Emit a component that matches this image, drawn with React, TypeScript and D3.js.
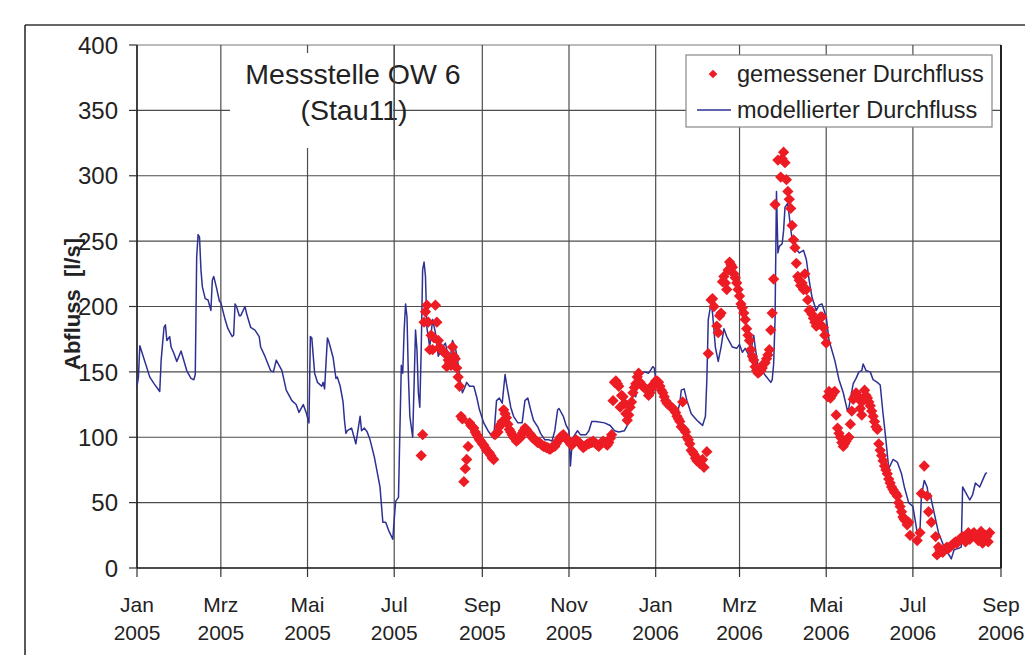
import React from "react";
import * as d3 from "d3";

const W = 1025;
const H = 655;
const FONT = "'Liberation Sans', Arial, Helvetica, sans-serif";

const yTicks = [0, 50, 100, 150, 200, 250, 300, 350, 400];
const xTickDates = [
  "2005-01-01", "2005-03-01", "2005-05-01", "2005-07-01", "2005-09-01", "2005-11-01",
  "2006-01-01", "2006-03-01", "2006-05-01", "2006-07-01", "2006-09-01",
];
const xTickMonths = ["Jan", "Mrz", "Mai", "Jul", "Sep", "Nov", "Jan", "Mrz", "Mai", "Jul", "Sep"];
const xTickYears = ["2005", "2005", "2005", "2005", "2005", "2005", "2006", "2006", "2006", "2006", "2006"];

// modellierter Durchfluss (l/s)
const modelled: [string, number][] = [
  ["2005-01-01", 139], ["2005-01-02", 146], ["2005-01-03", 170], ["2005-01-10", 146],
  ["2005-01-13", 141], ["2005-01-17", 135], ["2005-01-18", 159], ["2005-01-20", 184],
  ["2005-01-21", 186], ["2005-01-22", 174], ["2005-01-24", 177], ["2005-01-25", 169],
  ["2005-01-27", 164], ["2005-01-29", 158], ["2005-02-01", 166], ["2005-02-05", 151],
  ["2005-02-08", 145], ["2005-02-10", 144], ["2005-02-11", 148], ["2005-02-12", 238],
  ["2005-02-13", 255], ["2005-02-14", 253], ["2005-02-15", 228], ["2005-02-16", 215],
  ["2005-02-18", 206], ["2005-02-20", 205], ["2005-02-22", 197], ["2005-02-23", 220],
  ["2005-02-24", 223], ["2005-02-26", 214], ["2005-02-28", 204], ["2005-03-01", 203],
  ["2005-03-04", 190], ["2005-03-06", 183], ["2005-03-09", 177], ["2005-03-10", 178],
  ["2005-03-11", 202], ["2005-03-12", 200], ["2005-03-14", 193], ["2005-03-15", 193],
  ["2005-03-18", 200], ["2005-03-19", 195], ["2005-03-22", 184], ["2005-03-25", 182],
  ["2005-03-28", 177], ["2005-03-29", 169], ["2005-04-01", 162], ["2005-04-05", 151],
  ["2005-04-07", 150], ["2005-04-09", 159], ["2005-04-13", 151], ["2005-04-16", 136],
  ["2005-04-20", 128], ["2005-04-23", 125], ["2005-04-25", 119], ["2005-04-28", 125],
  ["2005-04-30", 119], ["2005-05-02", 111], ["2005-05-03", 177], ["2005-05-04", 176],
  ["2005-05-06", 149], ["2005-05-08", 142], ["2005-05-11", 139], ["2005-05-12", 142],
  ["2005-05-13", 137], ["2005-05-15", 176], ["2005-05-16", 173], ["2005-05-19", 161],
  ["2005-05-21", 145], ["2005-05-22", 146], ["2005-05-24", 139], ["2005-05-26", 127],
  ["2005-05-27", 113], ["2005-05-28", 103], ["2005-05-29", 105], ["2005-06-01", 107],
  ["2005-06-04", 95], ["2005-06-07", 116], ["2005-06-08", 105], ["2005-06-10", 107],
  ["2005-06-12", 104], ["2005-06-14", 98], ["2005-06-17", 85], ["2005-06-21", 62],
  ["2005-06-23", 35], ["2005-06-25", 35], ["2005-06-27", 29], ["2005-06-30", 22],
  ["2005-07-01", 37], ["2005-07-02", 51], ["2005-07-04", 54], ["2005-07-05", 105],
  ["2005-07-06", 155], ["2005-07-07", 149], ["2005-07-08", 182], ["2005-07-09", 202],
  ["2005-07-10", 192], ["2005-07-11", 146], ["2005-07-12", 116], ["2005-07-14", 100],
  ["2005-07-15", 141], ["2005-07-16", 182], ["2005-07-17", 167], ["2005-07-18", 134],
  ["2005-07-19", 123], ["2005-07-20", 167], ["2005-07-21", 228], ["2005-07-22", 234],
  ["2005-07-23", 223], ["2005-07-24", 184], ["2005-07-26", 169], ["2005-07-28", 190],
  ["2005-07-30", 180], ["2005-08-01", 162], ["2005-08-04", 169], ["2005-08-06", 172],
  ["2005-08-08", 162], ["2005-08-09", 156], ["2005-08-11", 174], ["2005-08-13", 169],
  ["2005-08-15", 156], ["2005-08-16", 146], ["2005-08-18", 134], ["2005-08-20", 139],
  ["2005-08-21", 142], ["2005-08-23", 139], ["2005-08-26", 139], ["2005-08-28", 131],
  ["2005-08-30", 121], ["2005-09-02", 111], ["2005-09-05", 105], ["2005-09-09", 99],
  ["2005-09-11", 128], ["2005-09-13", 130], ["2005-09-15", 126], ["2005-09-17", 148],
  ["2005-09-18", 141], ["2005-09-21", 123], ["2005-09-23", 116], ["2005-09-26", 111],
  ["2005-09-29", 111], ["2005-10-01", 128], ["2005-10-03", 130], ["2005-10-05", 121],
  ["2005-10-07", 113], ["2005-10-10", 108], ["2005-10-12", 103], ["2005-10-15", 98],
  ["2005-10-18", 98], ["2005-10-20", 97], ["2005-10-22", 105], ["2005-10-24", 121],
  ["2005-10-25", 122], ["2005-10-28", 116], ["2005-10-30", 109], ["2005-11-01", 105],
  ["2005-11-02", 78], ["2005-11-03", 93], ["2005-11-04", 100], ["2005-11-07", 105],
  ["2005-11-09", 102], ["2005-11-13", 102], ["2005-11-15", 105], ["2005-11-17", 112],
  ["2005-11-20", 112], ["2005-11-26", 111], ["2005-11-30", 109], ["2005-12-03", 105],
  ["2005-12-06", 104], ["2005-12-10", 105], ["2005-12-13", 111], ["2005-12-16", 134],
  ["2005-12-18", 131], ["2005-12-20", 149], ["2005-12-24", 150], ["2005-12-27", 149],
  ["2005-12-30", 154], ["2005-12-31", 153], ["2006-01-01", 144], ["2006-01-04", 136],
  ["2006-01-09", 126], ["2006-01-13", 121], ["2006-01-16", 118], ["2006-01-18", 126],
  ["2006-01-19", 136], ["2006-01-21", 137], ["2006-01-23", 128], ["2006-01-26", 118],
  ["2006-01-30", 113], ["2006-02-01", 111], ["2006-02-03", 109], ["2006-02-05", 116],
  ["2006-02-06", 144], ["2006-02-07", 190], ["2006-02-09", 203], ["2006-02-10", 195],
  ["2006-02-12", 169], ["2006-02-14", 158], ["2006-02-16", 169], ["2006-02-18", 183],
  ["2006-02-20", 177], ["2006-02-24", 169], ["2006-02-27", 168], ["2006-03-01", 171],
  ["2006-03-03", 165], ["2006-03-05", 168], ["2006-03-07", 164], ["2006-03-08", 160],
  ["2006-03-11", 178], ["2006-03-12", 169], ["2006-03-14", 155], ["2006-03-18", 149],
  ["2006-03-23", 142], ["2006-03-24", 144], ["2006-03-25", 156], ["2006-03-26", 190],
  ["2006-03-27", 288], ["2006-03-28", 241], ["2006-03-29", 246], ["2006-03-31", 248],
  ["2006-04-01", 258], ["2006-04-02", 276], ["2006-04-04", 279], ["2006-04-05", 269],
  ["2006-04-07", 251], ["2006-04-10", 244], ["2006-04-12", 241], ["2006-04-15", 243],
  ["2006-04-17", 236], ["2006-04-19", 220], ["2006-04-21", 207], ["2006-04-24", 197],
  ["2006-04-26", 201], ["2006-04-28", 202], ["2006-05-01", 192], ["2006-05-03", 174],
  ["2006-05-07", 159], ["2006-05-08", 154], ["2006-05-10", 144], ["2006-05-13", 134],
  ["2006-05-16", 120], ["2006-05-17", 123], ["2006-05-20", 141], ["2006-05-22", 145],
  ["2006-05-24", 150], ["2006-05-26", 151], ["2006-05-27", 156], ["2006-05-29", 151],
  ["2006-06-01", 150], ["2006-06-03", 144], ["2006-06-06", 142], ["2006-06-08", 140],
  ["2006-06-10", 118], ["2006-06-12", 98], ["2006-06-14", 76], ["2006-06-17", 83],
  ["2006-06-20", 81], ["2006-06-23", 72], ["2006-06-25", 62], ["2006-06-28", 50],
  ["2006-07-01", 47], ["2006-07-03", 34], ["2006-07-04", 27], ["2006-07-06", 29],
  ["2006-07-07", 55], ["2006-07-09", 67], ["2006-07-11", 62], ["2006-07-12", 55],
  ["2006-07-13", 57], ["2006-07-16", 42], ["2006-07-19", 27], ["2006-07-23", 16],
  ["2006-07-27", 9], ["2006-07-28", 7], ["2006-07-30", 14], ["2006-08-02", 15],
  ["2006-08-04", 16], ["2006-08-05", 62], ["2006-08-07", 58], ["2006-08-10", 52],
  ["2006-08-12", 56], ["2006-08-14", 65], ["2006-08-17", 62], ["2006-08-19", 67],
  ["2006-08-21", 72], ["2006-08-22", 73],
];

const measured: [string, number][] = [
  ["2005-07-20", 86], ["2005-07-21", 102], ["2005-07-22", 188], ["2005-07-23", 196],
  ["2005-07-24", 201], ["2005-07-25", 188], ["2005-07-26", 167], ["2005-07-27", 178],
  ["2005-07-28", 167], ["2005-07-29", 176], ["2005-07-30", 201], ["2005-07-31", 188],
  ["2005-08-01", 174], ["2005-08-02", 169], ["2005-08-03", 167], ["2005-08-04", 166],
  ["2005-08-05", 165], ["2005-08-06", 164], ["2005-08-07", 154], ["2005-08-08", 159],
  ["2005-08-09", 157], ["2005-08-10", 155], ["2005-08-11", 169], ["2005-08-12", 162],
  ["2005-08-13", 160], ["2005-08-14", 153], ["2005-08-15", 146], ["2005-08-16", 139],
  ["2005-08-17", 116], ["2005-08-18", 114], ["2005-08-19", 66], ["2005-08-20", 76],
  ["2005-08-21", 83], ["2005-08-22", 93], ["2005-08-23", 111], ["2005-08-24", 109],
  ["2005-08-25", 108], ["2005-08-26", 107], ["2005-08-27", 104], ["2005-08-28", 102],
  ["2005-08-29", 100], ["2005-08-30", 98], ["2005-08-31", 97], ["2005-09-01", 95],
  ["2005-09-02", 94], ["2005-09-03", 92], ["2005-09-04", 90], ["2005-09-05", 89],
  ["2005-09-06", 88], ["2005-09-07", 86], ["2005-09-08", 84], ["2005-09-09", 83],
  ["2005-09-10", 102], ["2005-09-11", 103], ["2005-09-12", 104], ["2005-09-13", 108],
  ["2005-09-14", 110], ["2005-09-15", 112], ["2005-09-16", 121], ["2005-09-17", 118],
  ["2005-09-18", 115], ["2005-09-19", 110], ["2005-09-20", 106], ["2005-09-21", 104],
  ["2005-09-22", 102], ["2005-09-23", 100], ["2005-09-24", 99], ["2005-09-25", 97],
  ["2005-09-26", 98], ["2005-09-27", 99], ["2005-09-28", 100], ["2005-09-29", 103],
  ["2005-09-30", 105], ["2005-10-01", 107], ["2005-10-02", 106], ["2005-10-03", 104],
  ["2005-10-04", 103], ["2005-10-05", 102], ["2005-10-06", 100], ["2005-10-07", 99],
  ["2005-10-08", 98], ["2005-10-09", 97], ["2005-10-10", 96], ["2005-10-11", 96],
  ["2005-10-12", 95], ["2005-10-13", 94], ["2005-10-14", 93], ["2005-10-15", 93],
  ["2005-10-16", 92], ["2005-10-17", 92], ["2005-10-18", 91], ["2005-10-19", 91],
  ["2005-10-20", 92], ["2005-10-21", 93], ["2005-10-22", 93], ["2005-10-23", 95],
  ["2005-10-24", 97], ["2005-10-25", 98], ["2005-10-26", 100], ["2005-10-27", 101],
  ["2005-10-28", 102], ["2005-10-29", 100], ["2005-10-30", 99], ["2005-10-31", 98],
  ["2005-11-01", 97], ["2005-11-02", 95], ["2005-11-03", 94], ["2005-11-04", 96],
  ["2005-11-05", 97], ["2005-11-06", 98], ["2005-11-07", 97], ["2005-11-08", 96],
  ["2005-11-09", 95], ["2005-11-10", 94], ["2005-11-11", 92], ["2005-11-12", 93],
  ["2005-11-13", 94], ["2005-11-14", 95], ["2005-11-15", 95], ["2005-11-16", 96],
  ["2005-11-17", 96], ["2005-11-18", 97], ["2005-11-19", 96], ["2005-11-20", 95],
  ["2005-11-21", 94], ["2005-11-22", 93], ["2005-11-23", 95], ["2005-11-24", 96],
  ["2005-11-25", 97], ["2005-11-26", 96], ["2005-11-27", 95], ["2005-11-28", 94],
  ["2005-11-29", 96], ["2005-11-30", 99], ["2005-12-01", 102], ["2005-12-02", 128],
  ["2005-12-03", 142], ["2005-12-04", 143], ["2005-12-05", 141], ["2005-12-06", 139],
  ["2005-12-07", 123], ["2005-12-08", 132], ["2005-12-09", 131], ["2005-12-10", 126],
  ["2005-12-11", 118], ["2005-12-12", 113], ["2005-12-13", 117], ["2005-12-14", 123],
  ["2005-12-15", 127], ["2005-12-16", 134], ["2005-12-17", 138], ["2005-12-18", 141],
  ["2005-12-19", 146], ["2005-12-20", 149], ["2005-12-21", 142], ["2005-12-22", 140],
  ["2005-12-23", 139], ["2005-12-24", 138], ["2005-12-25", 137], ["2005-12-26", 136],
  ["2005-12-27", 132], ["2005-12-28", 134], ["2005-12-29", 137], ["2005-12-30", 140],
  ["2005-12-31", 141], ["2006-01-01", 143], ["2006-01-02", 143], ["2006-01-03", 142],
  ["2006-01-04", 139], ["2006-01-05", 136], ["2006-01-06", 134], ["2006-01-07", 131],
  ["2006-01-08", 128], ["2006-01-09", 126], ["2006-01-10", 125], ["2006-01-11", 124],
  ["2006-01-12", 123], ["2006-01-13", 122], ["2006-01-14", 121], ["2006-01-15", 119],
  ["2006-01-16", 116], ["2006-01-17", 114], ["2006-01-18", 112], ["2006-01-19", 108],
  ["2006-01-20", 127], ["2006-01-21", 106], ["2006-01-22", 104], ["2006-01-23", 100],
  ["2006-01-24", 98], ["2006-01-25", 95], ["2006-01-26", 90], ["2006-01-27", 89],
  ["2006-01-28", 87], ["2006-01-29", 84], ["2006-01-30", 82], ["2006-01-31", 83],
  ["2006-02-01", 80], ["2006-02-02", 82], ["2006-02-03", 83], ["2006-02-04", 77],
  ["2006-02-06", 89], ["2006-02-07", 164], ["2006-02-09", 205], ["2006-02-10", 206],
  ["2006-02-11", 200], ["2006-02-13", 185], ["2006-02-14", 180], ["2006-02-15", 193],
  ["2006-02-16", 195], ["2006-02-17", 219], ["2006-02-18", 223], ["2006-02-19", 218],
  ["2006-02-20", 213], ["2006-02-21", 228], ["2006-02-22", 234], ["2006-02-23", 232],
  ["2006-02-24", 230], ["2006-02-25", 225], ["2006-02-26", 222], ["2006-02-27", 218],
  ["2006-02-28", 213], ["2006-03-01", 208], ["2006-03-02", 202], ["2006-03-03", 199],
  ["2006-03-04", 195], ["2006-03-05", 190], ["2006-03-06", 183], ["2006-03-07", 178],
  ["2006-03-08", 174], ["2006-03-09", 167], ["2006-03-10", 162], ["2006-03-11", 159],
  ["2006-03-12", 154], ["2006-03-13", 151], ["2006-03-14", 149], ["2006-03-15", 150],
  ["2006-03-16", 151], ["2006-03-17", 153], ["2006-03-18", 156], ["2006-03-19", 157],
  ["2006-03-20", 160], ["2006-03-21", 163], ["2006-03-22", 167], ["2006-03-23", 182],
  ["2006-03-24", 195], ["2006-03-25", 221], ["2006-03-26", 278], ["2006-03-28", 312],
  ["2006-03-30", 299], ["2006-03-31", 313], ["2006-04-01", 318], ["2006-04-02", 310],
  ["2006-04-03", 297], ["2006-04-04", 288], ["2006-04-05", 282], ["2006-04-06", 275],
  ["2006-04-07", 262], ["2006-04-08", 251], ["2006-04-09", 245], ["2006-04-10", 233],
  ["2006-04-11", 223], ["2006-04-12", 220], ["2006-04-13", 216], ["2006-04-14", 218],
  ["2006-04-15", 213], ["2006-04-16", 225], ["2006-04-17", 213], ["2006-04-18", 205],
  ["2006-04-19", 197], ["2006-04-20", 197], ["2006-04-21", 194], ["2006-04-22", 191],
  ["2006-04-23", 188], ["2006-04-24", 185], ["2006-04-25", 186], ["2006-04-26", 187],
  ["2006-04-27", 192], ["2006-04-28", 192], ["2006-04-29", 184], ["2006-04-30", 178],
  ["2006-05-01", 172], ["2006-05-02", 131], ["2006-05-03", 135], ["2006-05-04", 130],
  ["2006-05-05", 132], ["2006-05-06", 134], ["2006-05-07", 135], ["2006-05-08", 117],
  ["2006-05-09", 107], ["2006-05-10", 103], ["2006-05-11", 100], ["2006-05-12", 96],
  ["2006-05-13", 93], ["2006-05-14", 95], ["2006-05-15", 97], ["2006-05-16", 99],
  ["2006-05-17", 100], ["2006-05-18", 110], ["2006-05-19", 120], ["2006-05-20", 129],
  ["2006-05-21", 131], ["2006-05-22", 134], ["2006-05-23", 132], ["2006-05-24", 129],
  ["2006-05-25", 122], ["2006-05-26", 117], ["2006-05-27", 128], ["2006-05-28", 136],
  ["2006-05-29", 132], ["2006-05-30", 130], ["2006-05-31", 127], ["2006-06-01", 124],
  ["2006-06-02", 120], ["2006-06-03", 116], ["2006-06-04", 112], ["2006-06-05", 108],
  ["2006-06-06", 106], ["2006-06-07", 95], ["2006-06-08", 90], ["2006-06-09", 86],
  ["2006-06-10", 82], ["2006-06-11", 78], ["2006-06-12", 75], ["2006-06-13", 72],
  ["2006-06-14", 68], ["2006-06-15", 65], ["2006-06-16", 62], ["2006-06-17", 60],
  ["2006-06-18", 58], ["2006-06-19", 57], ["2006-06-20", 55], ["2006-06-21", 50],
  ["2006-06-22", 47], ["2006-06-23", 43], ["2006-06-24", 39], ["2006-06-25", 37],
  ["2006-06-26", 36], ["2006-06-27", 33], ["2006-06-28", 35], ["2006-06-29", 25],
  ["2006-07-04", 21], ["2006-07-06", 27], ["2006-07-07", 57], ["2006-07-09", 78],
  ["2006-07-11", 55], ["2006-07-12", 43], ["2006-07-14", 35], ["2006-07-17", 24],
  ["2006-07-18", 10], ["2006-07-19", 16], ["2006-07-20", 14], ["2006-07-21", 13],
  ["2006-07-22", 12], ["2006-07-23", 14], ["2006-07-24", 15], ["2006-07-25", 16],
  ["2006-07-26", 15], ["2006-07-27", 16], ["2006-07-28", 17], ["2006-07-29", 18],
  ["2006-07-30", 19], ["2006-07-31", 20], ["2006-08-01", 19], ["2006-08-02", 21],
  ["2006-08-03", 22], ["2006-08-04", 23], ["2006-08-05", 24], ["2006-08-06", 22],
  ["2006-08-07", 20], ["2006-08-08", 25], ["2006-08-09", 27], ["2006-08-10", 22],
  ["2006-08-11", 24], ["2006-08-12", 26], ["2006-08-13", 27], ["2006-08-14", 24],
  ["2006-08-15", 25], ["2006-08-16", 21], ["2006-08-17", 26], ["2006-08-18", 28],
  ["2006-08-19", 19], ["2006-08-20", 22], ["2006-08-21", 25], ["2006-08-22", 24],
  ["2006-08-23", 20], ["2006-08-24", 27],
];

const RED = "#ed1c24";
const BLUE = "#2e3192";
const GRID = "#4d4d4d";

export default function App() {
  const parse = d3.timeParse("%Y-%m-%d");
  const x = d3
    .scaleTime()
    .domain([parse("2005-01-01")!, parse("2006-09-01")!])
    .range([137, 1001]);
  const y = d3.scaleLinear().domain([0, 400]).range([568, 45]);

  const line = d3
    .line<[string, number]>()
    .x((d) => x(parse(d[0])!))
    .y((d) => y(d[1]));

  const diamond = d3.symbol().type(d3.symbolSquare).size(64)() ?? "";
  const legendDiamond = d3.symbol().type(d3.symbolSquare).size(38)() ?? "";

  const [x0, x1] = x.range();
  const [y0, y1] = y.range();
  const julX = x(parse("2005-07-01")!);

  return (
    <svg
      width={W}
      height={H}
      style={{ position: "absolute", left: 0, top: 0, background: "#fff" }}
      fontFamily={FONT}
    >
      <rect x={0} y={0} width={W} height={H} fill="#fff" />
      {/* outer chart frame */}
      <line x1={25} x2={W} y1={25} y2={25} stroke="#333" strokeWidth={1.5} />
      <line x1={25} x2={25} y1={25} y2={H} stroke="#222" strokeWidth={1.5} />

      {/* grid */}
      {yTicks.slice(1).map((t) => (
        <line key={"gy" + t} x1={x0} x2={x1} y1={y(t)} y2={y(t)} stroke={t === 400 ? "#777" : GRID} strokeWidth={1.2} />
      ))}
      {xTickDates.slice(1, -1).map((d) => (
        <line key={"gx" + d} x1={x(parse(d)!)} x2={x(parse(d)!)} y1={y1} y2={y0} stroke={GRID} strokeWidth={1.2} />
      ))}

      {/* title box */}
      <rect x={230} y={53} width={163} height={95} fill="#fff" />
      <text x={353} y={84} textAnchor="middle" fontSize={28.5} fill="#222">
        Messstelle OW 6
      </text>
      <text x={354} y={120} textAnchor="middle" fontSize={28.5} fill="#222">
        (Stau11)
      </text>
      <line x1={julX} x2={julX} y1={y1} y2={160} stroke={GRID} strokeWidth={1.2} />

      {/* axes */}
      <line x1={x0} x2={x0} y1={y1} y2={y0} stroke="#111" strokeWidth={1.6} />
      <line x1={x0} x2={x1} y1={y0} y2={y0} stroke="#111" strokeWidth={1.6} />
      <line x1={x1} x2={x1} y1={y1} y2={y0} stroke="#222" strokeWidth={2} />
      {yTicks.map((t) => (
        <g key={"yt" + t}>
          <line x1={x0 - 8} x2={x0} y1={y(t)} y2={y(t)} stroke="#333" strokeWidth={1.2} />
          <text x={118} y={y(t)} dy="0.36em" textAnchor="end" fontSize={24} fill="#222">
            {t}
          </text>
        </g>
      ))}
      {xTickDates.map((d, i) => {
        const px = x(parse(d)!);
        return (
          <g key={"xt" + d}>
            <line x1={px} x2={px} y1={y0} y2={y0 + 9} stroke="#333" strokeWidth={1.2} />
            <text x={px} y={612} textAnchor="middle" fontSize={21} fill="#222">
              {xTickMonths[i]}
            </text>
            <text x={px} y={640} textAnchor="middle" fontSize={21} fill="#222">
              {xTickYears[i]}
            </text>
          </g>
        );
      })}

      <text
        transform="translate(72,304) rotate(-90)"
        textAnchor="middle"
        dy="0.35em"
        fontSize={22}
        fontWeight="bold"
        fill="#222"
        style={{ whiteSpace: "pre" }}
      >
        {"Abfluss  [l/s]"}
      </text>

      {/* series */}
      <path d={line(modelled) ?? ""} fill="none" stroke={BLUE} strokeWidth={1.5} strokeLinejoin="round" />
      <g fill={RED}>
        {measured.map((d, i) => (
          <path
            key={"m" + i}
            d={diamond}
            transform={`translate(${x(parse(d[0])!)},${y(d[1])}) rotate(45)`}
          />
        ))}
      </g>

      {/* legend */}
      <rect x={686} y={55} width={306} height={72} fill="#fff" stroke="#888" strokeWidth={1.2} />
      <path d={legendDiamond} fill={RED} transform="translate(713,74) rotate(45)" />
      <text x={737} y={82} fontSize={23.5} fill="#222">
        gemessener Durchfluss
      </text>
      <line x1={697} x2={731} y1={110} y2={110} stroke={BLUE} strokeWidth={1.5} />
      <text x={737} y={118} fontSize={23.5} fill="#222">
        modellierter Durchfluss
      </text>
    </svg>
  );
}
